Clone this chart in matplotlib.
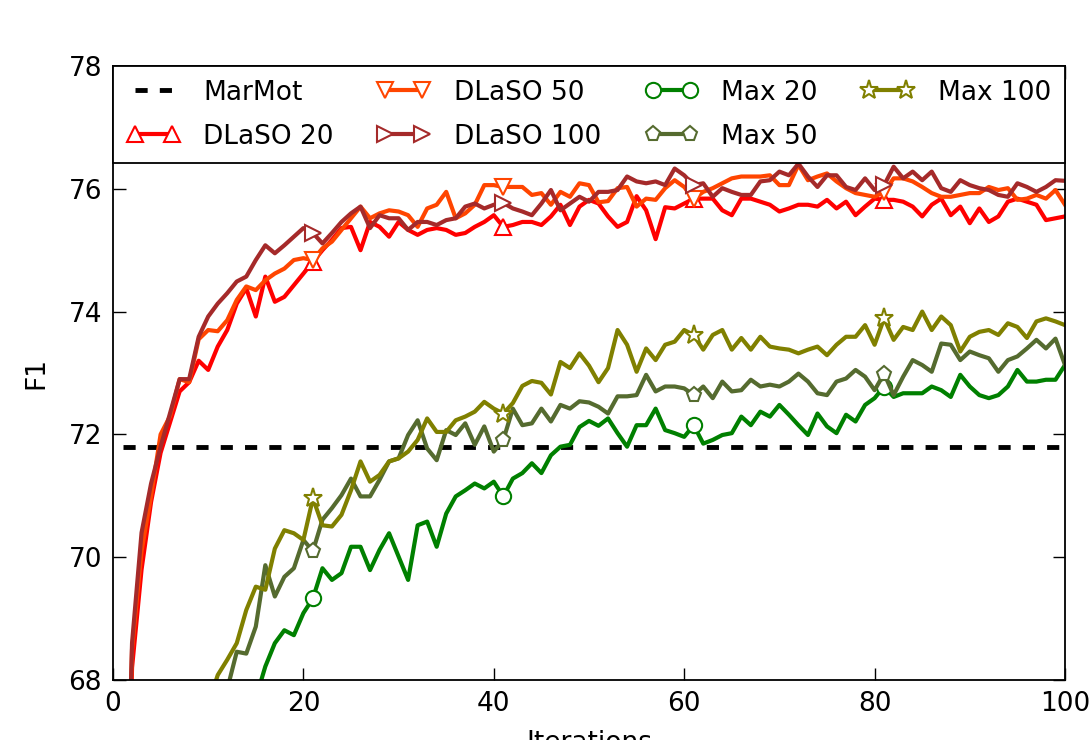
"""F1 vs. iterations for the DLaSO / Max variants against the MarMot baseline."""
import matplotlib
matplotlib.use("Agg")
import matplotlib.pyplot as plt  # noqa: E402

ITERATIONS = list(range(1, 101))
MARMOT = 71.8

DLASO_20 = [
    62.0, 68.2, 69.8, 70.9, 71.7, 72.2, 72.7, 72.85, 73.2, 73.05,
    73.43, 73.70, 74.13, 74.38, 73.92, 74.57, 74.16, 74.24, 74.43, 74.62,
    74.81, 75.00, 75.17, 75.36, 75.38, 75.00, 75.46, 75.38, 75.22, 75.46,
    75.33, 75.25, 75.33, 75.36, 75.33, 75.25, 75.28, 75.38, 75.46, 75.57,
    75.38, 75.41, 75.46, 75.46, 75.41, 75.55, 75.74, 75.41, 75.71, 75.82,
    75.76, 75.55, 75.38, 75.46, 75.88, 75.65, 75.18, 75.70, 75.68, 75.76,
    75.84, 75.84, 75.84, 75.65, 75.57, 75.84, 75.84, 75.79, 75.74, 75.63,
    75.68, 75.74, 75.74, 75.71, 75.82, 75.68, 75.79, 75.57, 75.71, 75.84,
    75.82, 75.82, 75.79, 75.71, 75.55, 75.74, 75.84, 75.57, 75.71, 75.44,
    75.68, 75.46, 75.55, 75.79, 75.84, 75.79, 75.74, 75.49, 75.52, 75.55,
]
DLASO_50 = [
    62.5, 68.5, 70.1, 71.0, 72.0, 72.3, 72.9, 72.85, 73.55, 73.70,
    73.68, 73.86, 74.19, 74.41, 74.35, 74.51, 74.62, 74.70, 74.84, 74.87,
    74.84, 75.03, 75.14, 75.33, 75.52, 75.71, 75.52, 75.60, 75.65, 75.63,
    75.57, 75.38, 75.68, 75.74, 75.95, 75.52, 75.60, 75.74, 76.06, 76.06,
    76.03, 76.03, 76.03, 75.90, 75.93, 75.74, 75.95, 75.87, 76.09, 76.06,
    75.78, 75.80, 76.01, 76.03, 75.71, 75.84, 75.82, 76.01, 76.14, 76.03,
    75.84, 75.95, 76.01, 76.09, 76.17, 76.20, 76.20, 76.20, 76.22, 76.06,
    76.06, 76.39, 76.14, 76.20, 76.25, 76.12, 76.01, 75.93, 75.90, 75.87,
    75.95, 76.17, 76.17, 76.12, 76.03, 75.93, 75.87, 75.87, 75.90, 75.93,
    75.93, 76.03, 75.98, 76.01, 75.82, 75.84, 75.90, 75.84, 75.98, 75.74,
]
DLASO_100 = [
    63.0, 68.6, 70.4, 71.2, 71.8, 72.35, 72.9, 72.9, 73.59, 73.92,
    74.13, 74.30, 74.49, 74.57, 74.84, 75.08, 74.95, 75.08, 75.22, 75.36,
    75.28, 75.11, 75.28, 75.46, 75.60, 75.71, 75.36, 75.57, 75.52, 75.52,
    75.33, 75.46, 75.46, 75.41, 75.49, 75.52, 75.71, 75.76, 75.68, 75.74,
    75.77, 75.68, 75.63, 75.57, 75.76, 75.98, 75.65, 75.76, 75.87, 75.79,
    75.95, 75.95, 75.98, 76.20, 76.12, 76.09, 76.12, 76.06, 76.33, 76.22,
    76.06, 76.09, 75.87, 76.01, 75.95, 75.90, 75.90, 76.12, 76.14, 76.28,
    76.22, 76.41, 76.20, 76.03, 76.22, 76.22, 76.03, 75.98, 76.17, 75.98,
    76.06, 76.36, 76.17, 76.28, 76.14, 76.28, 76.01, 75.95, 76.14, 76.06,
    76.01, 75.98, 75.90, 75.87, 76.09, 76.03, 75.95, 76.03, 76.14, 76.13,
]
MAX_20 = [
    58.0, 60.1, 61.5, 62.6, 63.4, 64.1, 64.8, 65.3, 65.9, 66.3,
    66.6, 66.9, 67.2, 67.5, 67.7, 68.22, 68.60, 68.81, 68.73, 69.09,
    69.33, 69.82, 69.63, 69.74, 70.17, 70.17, 69.79, 70.12, 70.39, 70.01,
    69.63, 70.52, 70.58, 70.17, 70.71, 70.99, 71.09, 71.20, 71.12, 71.23,
    70.99, 71.28, 71.37, 71.53, 71.37, 71.66, 71.80, 71.83, 72.12, 72.22,
    72.14, 72.26, 72.02, 71.80, 72.15, 72.15, 72.42, 72.07, 72.02, 71.96,
    72.15, 71.85, 71.91, 71.99, 72.02, 72.29, 72.15, 72.37, 72.29, 72.48,
    72.32, 72.15, 71.99, 72.34, 72.13, 72.02, 72.32, 72.21, 72.48, 72.59,
    72.78, 72.61, 72.67, 72.67, 72.67, 72.78, 72.72, 72.61, 72.97, 72.78,
    72.64, 72.59, 72.64, 72.78, 73.05, 72.86, 72.86, 72.89, 72.89, 73.13,
]
MAX_50 = [
    58.5, 60.6, 62.0, 63.1, 64.0, 64.8, 65.5, 66.1, 66.6, 67.0,
    67.4, 67.85, 68.46, 68.43, 68.87, 69.87, 69.36, 69.68, 69.82, 70.28,
    70.10, 70.61, 70.80, 71.01, 71.28, 70.99, 70.99, 71.26, 71.56, 71.61,
    71.99, 72.23, 71.77, 71.58, 72.07, 71.99, 72.18, 71.83, 72.13, 71.72,
    71.91, 72.42, 72.15, 72.18, 72.42, 72.21, 72.48, 72.42, 72.54, 72.52,
    72.45, 72.34, 72.62, 72.62, 72.64, 72.97, 72.70, 72.78, 72.78, 72.75,
    72.64, 72.78, 72.59, 72.86, 72.70, 72.72, 72.89, 72.78, 72.81, 72.78,
    72.86, 72.99, 72.86, 72.67, 72.64, 72.86, 72.91, 73.05, 72.94, 72.72,
    72.99, 72.64, 72.94, 73.21, 73.13, 73.02, 73.48, 73.46, 73.21, 73.35,
    73.29, 73.24, 73.02, 73.21, 73.27, 73.40, 73.54, 73.40, 73.56, 73.13,
]
MAX_100 = [
    59.0, 61.2, 62.6, 63.7, 64.6, 65.4, 66.1, 66.7, 67.2, 67.6,
    68.08, 68.33, 68.60, 69.14, 69.52, 69.47, 70.14, 70.44, 70.39, 70.28,
    70.96, 70.52, 70.50, 70.69, 71.09, 71.56, 71.23, 71.34, 71.56, 71.61,
    71.72, 71.91, 72.26, 72.04, 72.04, 72.23, 72.29, 72.37, 72.53, 72.42,
    72.34, 72.51, 72.79, 72.87, 72.84, 72.65, 73.18, 73.08, 73.32, 73.12,
    72.85, 73.08, 73.70, 73.46, 73.02, 73.40, 73.21, 73.46, 73.51, 73.70,
    73.62, 73.38, 73.62, 73.70, 73.38, 73.57, 73.38, 73.59, 73.43, 73.40,
    73.38, 73.32, 73.38, 73.43, 73.29, 73.46, 73.59, 73.59, 73.78, 73.46,
    73.89, 73.54, 73.75, 73.70, 74.00, 73.70, 73.92, 73.78, 73.35, 73.59,
    73.67, 73.70, 73.62, 73.81, 73.75, 73.57, 73.84, 73.89, 73.84, 73.78,
]

# (label, values, colour, marker)
SERIES = [
    ("DLaSO 20", DLASO_20, "#ff0000", "^"),
    ("DLaSO 50", DLASO_50, "#ff4500", "v"),
    ("DLaSO 100", DLASO_100, "#a52a2a", ">"),
    ("Max 20", MAX_20, "#008000", "o"),
    ("Max 50", MAX_50, "#556b2f", "p"),
    ("Max 100", MAX_100, "#808000", "*"),
]

FS = 19
plt.rcParams["font.family"] = "DejaVu Sans"

fig = plt.figure(figsize=(10.92, 7.40), dpi=100)
ax = fig.add_axes([113 / 1092, 60 / 740, 952 / 1092, 614 / 740])

ax.plot(ITERATIONS, [MARMOT] * len(ITERATIONS), color="black", lw=3.5,
        linestyle=(0, (2.5, 2.5)), label="MarMot")
for label, vals, color, marker in SERIES:
    ms = 14 if marker == "*" else 11
    ax.plot(ITERATIONS, vals, color=color, lw=3, marker=marker, markevery=20,
            markersize=ms, markerfacecolor="white", markeredgecolor=color,
            markeredgewidth=1.5, label=label)

ax.set_xlim(0, 100)
ax.set_ylim(68, 78)
ax.set_xticks([0, 20, 40, 60, 80, 100])
ax.set_yticks([68, 70, 72, 74, 76, 78])
ax.tick_params(direction="in", top=True, right=True, length=9, width=1,
               labelsize=FS, pad=8)
for sp in ax.spines.values():
    sp.set_linewidth(1.3)
ax.set_xlabel("Iterations", fontsize=FS, labelpad=9)
ax.set_ylabel("F1", fontsize=FS, labelpad=14)

leg = ax.legend(loc="upper left", bbox_to_anchor=(0, 0, 1, 1), mode="expand",
                ncol=4, borderaxespad=0, fontsize=FS, numpoints=2,
                fancybox=False, framealpha=1, handlelength=2.0,
                handletextpad=0.9, labelspacing=0.68, borderpad=0.52)
leg.get_frame().set_edgecolor("black")
leg.get_frame().set_linewidth(1.3)

fig.savefig("out.png", dpi=100)
